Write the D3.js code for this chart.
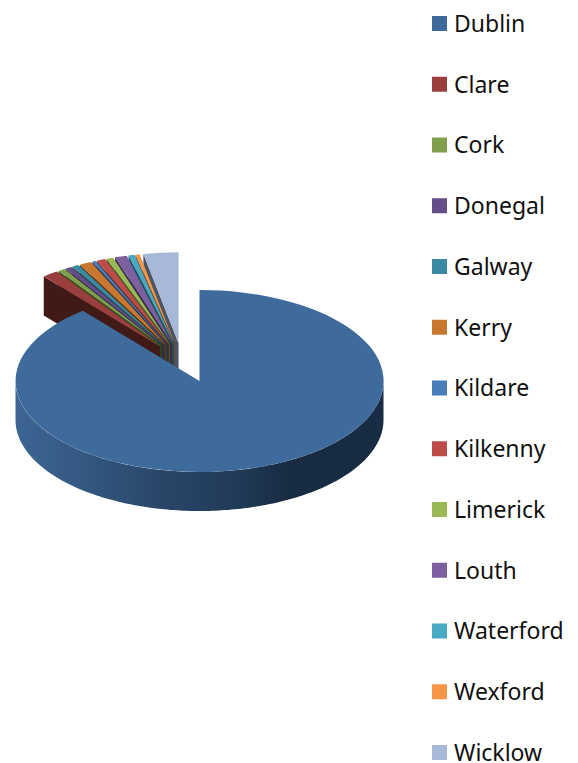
<!DOCTYPE html>
<html><head><meta charset="utf-8">
<script src="https://cdnjs.cloudflare.com/ajax/libs/d3/7.8.5/d3.min.js"></script>
<style>html,body{margin:0;padding:0;background:#fff}svg{display:block}</style>
</head><body><svg id="c" width="578" height="763"></svg>
<script>
const categories = ["Dublin","Clare","Cork","Donegal","Galway","Kerry","Kildare","Kilkenny","Limerick","Louth","Waterford","Wexford","Wicklow"];
const values = [89.07,1.39,0.61,0.58,0.58,1.06,0.31,0.78,0.61,1.06,0.53,0.36,3.06];
const colors = ["#3e6a9c","#9a3f3d","#809f4a","#654d88","#388ba2","#c9772f","#4a7ebb","#bd4b48","#98b954","#7d60a0","#46aac5","#f79646","#a7b8d8"];
const wallColors = ["#1a2e45","#3f1a17","#3a4a20","#2c2140","#17404c","#5e3512","#1f3a5a","#55201e","#465826","#38294a","#1d4f5c","#77441a","#4b5563"];

const svg = d3.select("#c");
const rx = 184, ry = 91, depth = 39, explode = 36, k = ry / rx;
const rest = {x:182, y:361}, main = {x:199.5, y:381};

const arcs = d3.pie().value(d => d).sort(null)(values);
const unitArc = d3.arc().innerRadius(0).outerRadius(1);
const px = a => rx * Math.sin(a), py = a => -ry * Math.cos(a);

function apex(d, i){
  if (i === 0) return main;
  const m = (d.startAngle + d.endAngle) / 2;
  return {x: rest.x + explode * Math.sin(m), y: rest.y - explode * k * Math.cos(m)};
}

const defs = svg.append("defs");
const grad = defs.append("linearGradient").attr("id","sideGrad")
  .attr("gradientUnits","userSpaceOnUse").attr("x1",main.x-rx).attr("x2",main.x+rx).attr("y1",0).attr("y2",0);
[[0,"#3d6694"],[0.2,"#33577f"],[0.4,"#294669"],[0.6,"#213a57"],[0.75,"#172b42"],[1,"#182d45"]]
  .forEach(([o,c]) => grad.append("stop").attr("offset",o).attr("stop-color",c));

// exploded small slices, back to front (right to left)
const g = svg.append("g");
d3.range(arcs.length - 1, 0, -1).forEach(i => {
  const d = arcs[i], c = apex(d, i), a = d.startAngle;
  const p = d3.path();
  p.moveTo(c.x, c.y);
  p.lineTo(c.x + px(a), c.y + py(a));
  p.lineTo(c.x + px(a), c.y + py(a) + depth);
  p.lineTo(c.x, c.y + depth);
  p.closePath();
  g.append("path").attr("d", p.toString()).attr("fill", wallColors[i]);
  g.append("path").attr("d", unitArc(d))
    .attr("transform", `translate(${c.x},${c.y}) scale(${rx},${ry})`)
    .attr("fill", colors[i]);
});

// Dublin: outer wall then top
const d0 = arcs[0];
const wallPts = d3.range(-90, 90.5, 1).map(t => {
  const r = t * Math.PI / 180;
  return [main.x + rx * Math.sin(r), main.y + ry * Math.cos(r)];
});
const wallD = d3.line()(wallPts.map(p => [p[0], p[1] + depth]).concat(wallPts.slice().reverse()));
svg.append("path").attr("d", wallD + "Z").attr("fill", "url(#sideGrad)");
svg.append("path").attr("d", unitArc(d0))
  .attr("transform", `translate(${main.x},${main.y}) scale(${rx},${ry})`)
  .attr("fill", colors[0]);

// Legend
const yLegend = d3.scalePoint().domain(categories).range([23.5, 752.5]);
const leg = svg.append("g").selectAll("g").data(categories).join("g")
  .attr("transform", d => `translate(432,${yLegend(d)})`);
leg.append("rect").attr("x",0).attr("y",-7.5).attr("width",15).attr("height",15)
  .attr("fill", (d,i) => colors[i]);
leg.append("text").attr("x",22).attr("y",0).attr("dy","0.36em")
  .attr("font-family","'Noto Sans',sans-serif").attr("font-size",23).attr("fill","#111")
  .text(d => d);
</script></body></html>
